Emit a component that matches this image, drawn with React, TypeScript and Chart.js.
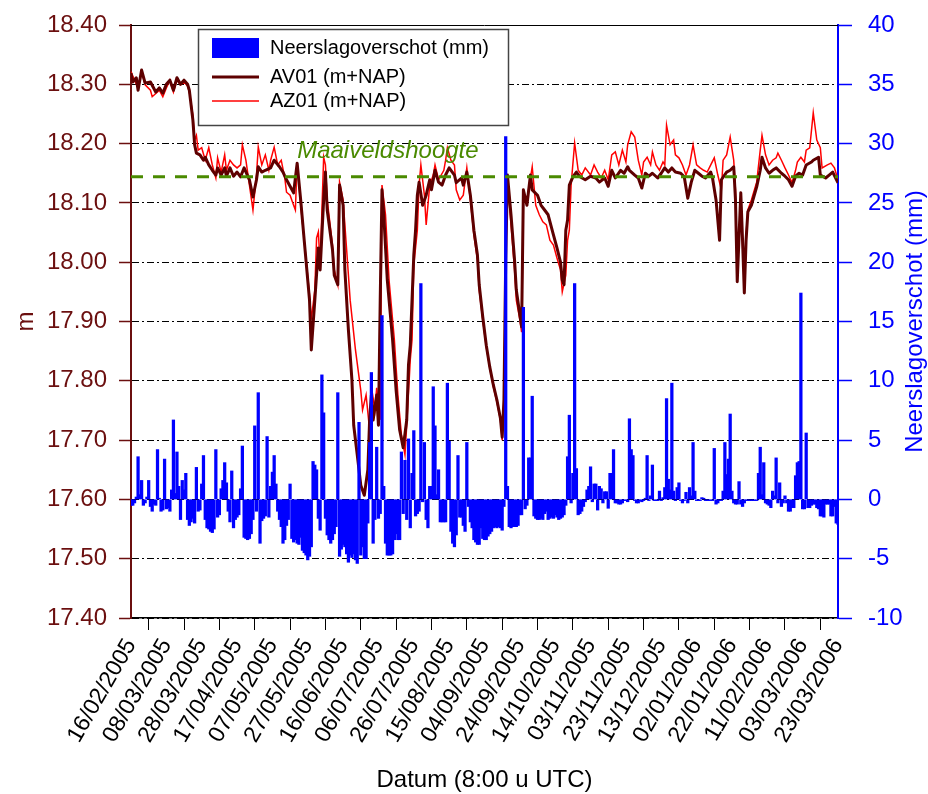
import { useEffect, useRef } from "react";
import { Chart, registerables } from "chart.js";

Chart.register(...registerables);

// Day 0 of the time axis (8:00 UTC readings)
const START_DATE_UTC = Date.UTC(2005, 1, 16);
const LAST_DAY = 400;
const DATE_TICK_STEP = 20;

// Groundwater level axis (m+NAP) and precipitation-surplus axis (mm)
const levelTicks = [17.4, 17.5, 17.6, 17.7, 17.8, 17.9, 18.0, 18.1, 18.2, 18.3, 18.4];
const surplusTicks = [-10, -5, 0, 5, 10, 15, 20, 25, 30, 35, 40];

// Surface level (maaiveld)
const maaiveldshoogte = 18.144;

// Daily precipitation surplus (mm), day 0 .. day 400
const neerslagoverschot: number[] = [
  -0.5, -0.5, -0.3, 0.2, 3.6, 0.4, 1.6, -0.5, -0.3, 0.2,
  1.6, -0.6, -1.0, -0.4, -0.5, 4.2, 0.1, -1.0, -0.9, 3.4,
  -0.8, -0.7, -1.0, 0.8, 6.7, 0.5, 4.0, 1.1, -1.7, 1.6,
  0.8, 2.2, -1.7, -2.2, -1.9, -1.6, -2.0, 2.7, -1.0, -0.9,
  1.3, 3.7, -1.7, -2.4, -2.5, -2.7, -2.8, -2.5, 4.2, -1.5,
  -1.3, 0.9, 1.6, 3.1, 1.4, -1.0, -1.9, 2.4, -2.4, -1.7,
  -1.5, -1.3, 0.9, 4.5, -3.2, -3.3, -3.4, -3.3, -2.9, -1.7,
  6.2, -1.0, 9.0, -3.7, -1.8, -1.6, -1.4, 5.3, -1.5, 1.1,
  2.3, 3.7, 1.3, -1.0, -1.7, -2.3, -3.7, -3.4, -2.2, -1.7,
  1.3, -3.3, -3.6, -3.4, -3.7, -3.8, -3.2, -4.3, -4.5, -4.7,
  -5.1, -4.8, -4.0, 3.2, 2.9, 2.5, -1.6, -2.6, 10.5, 7.3,
  -1.6, -3.0, -3.4, -3.7, -3.4, -2.9, -2.3, 9.0, -4.8, -4.2,
  -3.8, -4.0, -4.6, -5.3, -4.7, -4.9, -4.6, -5.1, -5.4, 6.5,
  -4.7, -4.0, -5.0, -5.0, -2.0, 4.8, 10.7, -3.7, -1.7, 4.4,
  -1.6, -1.2, 15.5, 1.1, -3.7, -4.7, -4.7, -4.7, -4.6, -3.4,
  -2.9, -3.4, -3.4, 4.0, -1.2, 3.3, -1.7, 5.1, -2.4, 2.2,
  5.8, -1.4, -1.2, -1.0, 18.2, -0.2, 4.8, -1.7, -2.4, 1.1,
  1.1, 9.5, 6.2, 0.4, 2.5, -1.9, -1.9, -1.9, -1.9, 9.8,
  4.9, -2.7, -3.7, -4.0, -3.0, 3.7, -1.5, -1.5, -2.2, -2.7,
  4.8, -0.6, -1.9, -2.4, -3.4, -3.6, -3.8, -3.8, -2.4, -3.3,
  -3.4, -3.4, -3.1, -2.9, -2.7, -2.4, -2.3, -2.4, -2.3, -2.4,
  -2.6, -0.6, 30.6, 1.1, -2.3, -2.4, -2.3, -2.3, -2.3, -2.2,
  -1.3, -1.3, 16.2, -0.8, -0.5, 3.5, 3.5, 8.7, -1.4, -1.6,
  -1.7, -1.7, -1.6, -1.7, -1.2, -1.0, -1.7, -1.6, -1.5, -1.6,
  -1.3, -1.5, -1.7, -1.6, -1.5, -1.3, -0.5, 3.6, 7.1, -0.3,
  2.2, 18.2, 2.6, -1.3, -1.2, -1.0, -0.6, -0.2, 0.8, 1.1,
  2.75, -0.2, 1.3, 1.3, -0.9, 1.1, 0.9, -0.3, 0.65, 0.65,
  -0.75, 2.2, 2.2, 4.2, -0.3, -0.3, -0.4, -0.4, -0.3, -0.1,
  -0.1, -0.2, 6.8, 4.2, 3.7, -0.1, -0.3, -0.3, -0.1, -0.2,
  -0.1, 0.1, 3.7, -0.1, 0.3, 2.9, -0.1, -0.1, -0.1, 0.7,
  -0.1, 0.15, 1.0, 8.5, 1.7, 0.8, 9.8, 0.7, -0.1, 1.0,
  1.4, -0.1, -0.3, -0.1, 0.6, -0.3, 1.0, 0.3, 4.8, 0.7,
  -0.1, -0.1, -0.1, 0.15, 0.1, -0.1, -0.1, -0.1, -0.1, -0.1,
  4.3, -0.4, -0.3, -0.1, -0.1, 0.7, 4.8, 2.1, 3.4, 7.2,
  0.7, -0.3, -0.4, -0.4, 1.5, -0.4, -0.6, -0.3, -0.1, -0.1,
  -0.1, -0.1, -0.1, -0.1, -0.1, 2.2, 4.4, 0.4, 3.1, -0.3,
  -0.4, -0.5, -0.7, 0.7, 0.3, 3.5, -0.3, 1.4, -0.6, -0.3,
  0.3, -0.3, -1.0, -1.0, -0.7, -0.7, 2.0, 3.1, 3.2, 17.4,
  -0.8, -0.8, 5.6, -0.7, -0.7, -0.5, -0.4, -0.4, -0.7, -0.8,
  -1.4, -1.4, -1.5, -0.4, -0.4, -0.4, -1.4, -1.4, -0.6, -2.0,
  -2.1,
];

// AV01 groundwater level (m+NAP): day number and level
const av01Days = [
  0, 1, 3, 4, 6, 8, 11, 14, 16, 18, 20, 22, 24, 26, 28, 30, 32, 33, 35, 36,
  37, 39, 41, 42, 44, 46, 48, 49, 51, 53, 54, 56, 58, 60, 62, 64, 67, 69, 71, 72,
  74, 76, 79, 81, 84, 86, 88, 90, 92, 94, 96, 98, 101, 102, 104, 106, 107, 109, 110, 111,
  114, 115, 117, 118, 120, 121, 123, 125, 126, 128, 130, 132, 134, 135, 136, 137, 139, 140, 141, 142,
  143, 145, 148, 150, 152, 154, 156, 157, 158, 160, 161, 162, 163, 165, 167, 169, 170, 172, 174, 176,
  178, 180, 183, 184, 187, 188, 190, 192, 194, 196, 197, 199, 201, 203, 205, 207, 209, 210, 211, 212,
  213, 215, 217, 218, 220, 221, 222, 224, 226, 227, 230, 232, 234, 236, 239, 241, 243, 244, 245, 246,
  247, 248, 250, 252, 254, 257, 260, 263, 265, 268, 270, 272, 274, 277, 279, 281, 282, 285, 287, 289,
  291, 293, 295, 298, 300, 302, 304, 306, 308, 311, 313, 315, 317, 319, 321, 323, 325, 328, 329, 331,
  333, 334, 337, 339, 341, 342, 343, 345, 346, 347, 348, 349, 351, 354, 356, 357, 359, 361, 363, 365,
  368, 370, 372, 374, 376, 378, 380, 382, 385, 386, 389, 390, 393, 395, 397, 400,
];
const av01Levels = [
  18.319, 18.304, 18.311, 18.29, 18.324, 18.302, 18.304, 18.287, 18.294, 18.285, 18.3, 18.307, 18.29, 18.311, 18.3, 18.307, 18.3, 18.29, 18.24, 18.198,
  18.184, 18.181, 18.172, 18.177, 18.164, 18.155, 18.147, 18.159, 18.147, 18.159, 18.145, 18.159, 18.145, 18.152, 18.144, 18.159, 18.139, 18.11, 18.139, 18.161,
  18.152, 18.155, 18.159, 18.172, 18.161, 18.152, 18.139, 18.128, 18.117, 18.167, 18.105, 18.037, 17.936, 17.852, 17.936, 18.024, 17.987, 18.105, 18.152, 18.088,
  18.021, 17.978, 17.962, 18.13, 18.096, 17.987, 17.886, 17.801, 17.725, 17.675, 17.624, 17.607, 17.65, 17.734, 17.776, 17.734, 17.776, 17.725, 17.936, 18.122,
  18.08, 17.97, 17.869, 17.784, 17.717, 17.687, 17.734, 17.827, 17.86, 18.012, 18.054, 18.113, 18.135, 18.096, 18.113, 18.139, 18.122, 18.155, 18.135, 18.13,
  18.147, 18.159, 18.147, 18.134, 18.142, 18.13, 18.152, 18.113, 18.054, 18.012, 17.962, 17.908, 17.86, 17.823, 17.793, 17.768, 17.737, 17.705, 17.768, 18.004,
  18.147, 18.08, 18.004, 17.953, 17.911, 17.891, 18.122, 18.096, 18.147, 18.122, 18.113, 18.096, 18.088, 18.08, 18.046, 18.024, 18.0, 17.97, 17.962, 18.054,
  18.071, 18.13, 18.144, 18.152, 18.144, 18.139, 18.145, 18.142, 18.135, 18.142, 18.128, 18.155, 18.142, 18.155, 18.15, 18.161, 18.155, 18.147, 18.142, 18.125,
  18.15, 18.145, 18.15, 18.142, 18.15, 18.159, 18.152, 18.159, 18.152, 18.15, 18.144, 18.108, 18.135, 18.155, 18.15, 18.145, 18.142, 18.152, 18.142, 18.105,
  18.037, 18.139, 18.152, 18.155, 18.161, 18.105, 17.967, 18.117, 18.037, 17.948, 18.037, 18.085, 18.096, 18.127, 18.155, 18.177, 18.159, 18.15, 18.155, 18.159,
  18.15, 18.145, 18.139, 18.128, 18.145, 18.15, 18.147, 18.164, 18.169, 18.172, 18.177, 18.147, 18.142, 18.147, 18.152, 18.134,
];

// AZ01 groundwater level (m+NAP): day number and level
const az01Days = [
  0, 2, 4, 6, 8, 11, 12, 15, 16, 18, 20, 22, 24, 26, 28, 30, 32, 33, 35, 36,
  37, 38, 40, 42, 44, 46, 48, 49, 51, 53, 54, 56, 58, 60, 62, 63, 65, 67, 69, 71,
  72, 74, 76, 78, 79, 81, 83, 85, 87, 88, 90, 92, 93, 94, 96, 98, 101, 102, 104, 105,
  106, 107, 109, 110, 111, 114, 115, 117, 118, 120, 122, 124, 127, 130, 131, 133, 135, 136, 138, 139,
  141, 142, 144, 146, 149, 151, 153, 155, 156, 158, 159, 160, 162, 163, 164, 166, 167, 169, 171, 172,
  174, 177, 178, 179, 181, 183, 184, 186, 188, 190, 192, 194, 196, 197, 199, 201, 203, 205, 207, 209,
  210, 211, 212, 213, 215, 217, 218, 220, 221, 222, 224, 226, 227, 229, 231, 233, 235, 237, 239, 241,
  243, 244, 246, 247, 248, 249, 251, 253, 255, 257, 260, 262, 264, 266, 268, 270, 272, 274, 276, 278,
  280, 281, 283, 285, 287, 289, 290, 292, 294, 295, 297, 299, 301, 302, 303, 305, 307, 308, 310, 312,
  314, 316, 318, 320, 322, 324, 326, 328, 330, 332, 334, 335, 337, 339, 341, 342, 343, 345, 346, 347,
  348, 349, 351, 354, 356, 357, 359, 361, 363, 365, 366, 368, 370, 372, 374, 376, 377, 379, 381, 382,
  384, 386, 388, 390, 391, 394, 396, 398, 400,
];
const az01Levels = [
  18.321, 18.307, 18.294, 18.321, 18.299, 18.29, 18.279, 18.287, 18.29, 18.279, 18.294, 18.307, 18.287, 18.307, 18.299, 18.304, 18.297, 18.287, 18.248, 18.206,
  18.214, 18.189, 18.193, 18.172, 18.193, 18.164, 18.142, 18.176, 18.152, 18.181, 18.155, 18.172, 18.164, 18.159, 18.164, 18.198, 18.172, 18.13, 18.088, 18.147,
  18.194, 18.164, 18.181, 18.155, 18.172, 18.194, 18.164, 18.172, 18.142, 18.118, 18.113, 18.096, 18.088, 18.169, 18.096, 18.037, 17.945, 17.903, 17.953, 18.041,
  18.051, 17.995, 18.177, 18.164, 18.105, 18.029, 17.987, 17.962, 18.135, 18.105, 18.021, 17.936, 17.852, 17.784, 17.751, 17.776, 17.717, 17.79, 17.751, 17.788,
  17.734, 18.13, 18.08, 17.97, 17.869, 17.776, 17.709, 17.675, 17.725, 17.835, 17.869, 17.995, 18.054, 18.13, 18.164, 18.113, 18.063, 18.13, 18.147, 18.164,
  18.139, 18.155, 18.172, 18.193, 18.172, 18.164, 18.122, 18.105, 18.113, 18.159, 18.105, 18.046, 18.004, 17.953, 17.903, 17.857, 17.822, 17.79, 17.764, 17.734,
  17.7, 17.768, 18.0, 18.139, 18.063, 17.987, 17.936, 17.903, 17.882, 18.105, 18.105, 18.142, 18.161, 18.096, 18.08, 18.068, 18.063, 18.037, 18.029, 18.007,
  17.987, 17.95, 17.978, 18.037, 18.054, 18.13, 18.201, 18.155, 18.147, 18.159, 18.147, 18.164, 18.152, 18.142, 18.155, 18.139, 18.181, 18.186, 18.164, 18.189,
  18.169, 18.198, 18.22, 18.211, 18.172, 18.147, 18.169, 18.177, 18.164, 18.186, 18.164, 18.155, 18.169, 18.164, 18.231, 18.198, 18.206, 18.181, 18.176, 18.164,
  18.147, 18.164, 18.198, 18.164, 18.159, 18.155, 18.152, 18.164, 18.176, 18.147, 18.122, 18.172, 18.181, 18.211, 18.172, 18.122, 17.987, 18.105, 18.029, 17.962,
  18.046, 18.088, 18.105, 18.135, 18.189, 18.214, 18.181, 18.164, 18.172, 18.176, 18.184, 18.172, 18.159, 18.147, 18.134, 18.155, 18.169, 18.177, 18.169, 18.189,
  18.193, 18.252, 18.206, 18.193, 18.159, 18.164, 18.167, 18.159, 18.139,
];

const FONT = '"Liberation Sans", Arial, sans-serif';
const LEVEL_RED = "#6b0f0f";
const AV01_COLOR = "#5e0000";
const AZ01_COLOR = "#ff0000";
const BAR_BLUE = "#0000ff";
const GREEN = "#4a8a00";

const GRID_DASH = [7, 3, 2, 3];

function formatDay(day: number): string {
  const t = new Date(START_DATE_UTC + day * 86400000);
  const dd = String(t.getUTCDate()).padStart(2, "0");
  const mm = String(t.getUTCMonth() + 1).padStart(2, "0");
  return `${dd}/${mm}/${t.getUTCFullYear()}`;
}

// keep the plot frame where it is, regardless of label overhang
function clearScalePadding(scale: any) {
  scale.paddingTop = 0;
  scale.paddingBottom = 0;
  scale.paddingLeft = 0;
  scale.paddingRight = 0;
}

const decorations = {
  id: "decorations",
  afterDraw(chart: any) {
    const { ctx, chartArea: a, scales } = chart;
    ctx.save();

    // top frame line
    ctx.strokeStyle = "#000";
    ctx.lineWidth = 1;
    ctx.beginPath();
    ctx.moveTo(a.left, Math.round(a.top) + 0.5);
    ctx.lineTo(a.right, Math.round(a.top) + 0.5);
    ctx.stroke();

    // surface level label
    const yMv = scales.y.getPixelForValue(maaiveldshoogte);
    ctx.font = `italic 24px ${FONT}`;
    ctx.fillStyle = GREEN;
    ctx.textAlign = "left";
    ctx.textBaseline = "alphabetic";
    ctx.fillText("Maaiveldshoogte", scales.x.getPixelForValue(94), yMv - 19);

    // legend box
    const lx = 198, ly = 29, lw = 310, lh = 96;
    ctx.fillStyle = "#fff";
    ctx.fillRect(lx, ly, lw, lh);
    ctx.strokeStyle = "#444";
    ctx.lineWidth = 1.5;
    ctx.strokeRect(lx + 0.5, ly + 0.5, lw, lh);

    const sx0 = 212, sx1 = 259, tx = 270;
    ctx.fillStyle = BAR_BLUE;
    ctx.fillRect(sx0, 38, sx1 - sx0, 20);

    ctx.lineCap = "butt";
    ctx.strokeStyle = AV01_COLOR;
    ctx.lineWidth = 3;
    ctx.beginPath();
    ctx.moveTo(sx0, 77);
    ctx.lineTo(sx1, 77);
    ctx.stroke();

    ctx.strokeStyle = AZ01_COLOR;
    ctx.lineWidth = 1.5;
    ctx.beginPath();
    ctx.moveTo(sx0, 101);
    ctx.lineTo(sx1, 101);
    ctx.stroke();

    ctx.font = `20px ${FONT}`;
    ctx.fillStyle = "#000";
    ctx.textBaseline = "middle";
    ctx.fillText("Neerslagoverschot (mm)", tx, 48);
    ctx.fillText("AV01 (m+NAP)", tx, 77);
    ctx.fillText("AZ01 (m+NAP)", tx, 101);

    // axis titles
    ctx.font = `24px ${FONT}`;
    ctx.textAlign = "center";
    ctx.textBaseline = "middle";

    ctx.fillStyle = LEVEL_RED;
    ctx.save();
    ctx.translate(26, (a.top + a.bottom) / 2);
    ctx.rotate(-Math.PI / 2);
    ctx.fillText("m", 0, 0);
    ctx.restore();

    ctx.fillStyle = BAR_BLUE;
    ctx.save();
    ctx.translate(915, (a.top + a.bottom) / 2);
    ctx.rotate(-Math.PI / 2);
    ctx.fillText("Neerslagoverschot (mm)", 0, 0);
    ctx.restore();

    ctx.fillStyle = "#000";
    ctx.fillText("Datum (8:00 u UTC)", (a.left + a.right) / 2, 780);

    ctx.restore();
  },
};

export default function App() {
  const canvasRef = useRef<HTMLCanvasElement | null>(null);

  useEffect(() => {
    const canvas = canvasRef.current;
    if (!canvas) return;

    const barData = neerslagoverschot.map((v, i) => ({ x: i, y: v }));
    const av01Data = av01Days.map((d, i) => ({ x: d, y: av01Levels[i] }));
    const az01Data = az01Days.map((d, i) => ({ x: d, y: az01Levels[i] }));
    const mvData = [
      { x: 0, y: maaiveldshoogte },
      { x: LAST_DAY, y: maaiveldshoogte },
    ];

    const chart = new Chart(canvas, {
      type: "bar",
      data: {
        datasets: [
          {
            type: "line",
            label: "Maaiveldshoogte",
            data: mvData,
            yAxisID: "y",
            borderColor: GREEN,
            borderWidth: 3,
            borderDash: [12, 10],
            pointRadius: 0,
            order: 0,
          },
          {
            type: "bar",
            label: "Neerslagoverschot (mm)",
            data: barData,
            yAxisID: "y2",
            backgroundColor: BAR_BLUE,
            borderWidth: 0,
            barThickness: 2.6,
            order: 1,
          },
          {
            type: "line",
            label: "AV01 (m+NAP)",
            data: av01Data,
            yAxisID: "y",
            borderColor: AV01_COLOR,
            borderWidth: 3,
            pointRadius: 0,
            tension: 0,
            borderJoinStyle: "round",
            order: 2,
          },
          {
            type: "line",
            label: "AZ01 (m+NAP)",
            data: az01Data,
            yAxisID: "y",
            borderColor: AZ01_COLOR,
            borderWidth: 1.5,
            pointRadius: 0,
            tension: 0,
            order: 3,
          },
        ],
      } as any,
      options: {
        responsive: false,
        animation: false,
        devicePixelRatio: 1,
        layout: { padding: { top: 25, left: 0, right: 0, bottom: 0 } },
        plugins: {
          legend: { display: false },
          tooltip: { enabled: false },
        },
        scales: {
          x: {
            type: "linear",
            min: 0,
            max: LAST_DAY,
            offset: false,
            afterBuildTicks: (scale: any) => {
              const ticks = [];
              for (let d = 0; d <= LAST_DAY; d += DATE_TICK_STEP) ticks.push({ value: d });
              scale.ticks = ticks;
            },
            afterFit: (scale: any) => {
              scale.height = 176;
              clearScalePadding(scale);
            },
            ticks: {
              autoSkip: false,
              minRotation: 60,
              maxRotation: 60,
              padding: 4,
              color: "#000",
              font: { family: FONT, size: 23 },
              callback: (v: any) => formatDay(Number(v)),
            },
            grid: {
              drawOnChartArea: false,
              drawTicks: true,
              tickLength: 12,
              tickColor: "#000",
              tickWidth: 1,
            },
            border: { color: "#000", width: 1.5 },
          },
          y: {
            type: "linear",
            position: "left",
            min: levelTicks[0],
            max: levelTicks[levelTicks.length - 1],
            afterBuildTicks: (scale: any) => {
              scale.ticks = levelTicks.map((v) => ({ value: v }));
            },
            afterFit: (scale: any) => {
              scale.width = 131;
              clearScalePadding(scale);
            },
            ticks: {
              padding: 12,
              color: LEVEL_RED,
              font: { family: FONT, size: 24 },
              callback: (v: any) => Number(v).toFixed(2),
            },
            grid: {
              color: "#000",
              lineWidth: 1,
              tickLength: 12,
              tickColor: LEVEL_RED,
              tickWidth: 1.5,
            },
            border: { color: LEVEL_RED, width: 2, dash: GRID_DASH },
          },
          y2: {
            type: "linear",
            position: "right",
            min: surplusTicks[0],
            max: surplusTicks[surplusTicks.length - 1],
            afterBuildTicks: (scale: any) => {
              scale.ticks = surplusTicks.map((v) => ({ value: v }));
            },
            afterFit: (scale: any) => {
              scale.width = 90;
              clearScalePadding(scale);
            },
            ticks: {
              padding: 16,
              color: BAR_BLUE,
              font: { family: FONT, size: 24 },
              callback: (v: any) => String(v),
            },
            grid: {
              drawOnChartArea: false,
              tickLength: 14,
              tickColor: BAR_BLUE,
              tickWidth: 1.5,
            },
            border: { color: BAR_BLUE, width: 2 },
          },
        },
      } as any,
      plugins: [decorations],
    });

    return () => chart.destroy();
  }, []);

  return (
    <div style={{ position: "absolute", left: 0, top: 0, width: 928, height: 794, background: "#fff" }}>
      <canvas ref={canvasRef} width={928} height={794} />
    </div>
  );
}
